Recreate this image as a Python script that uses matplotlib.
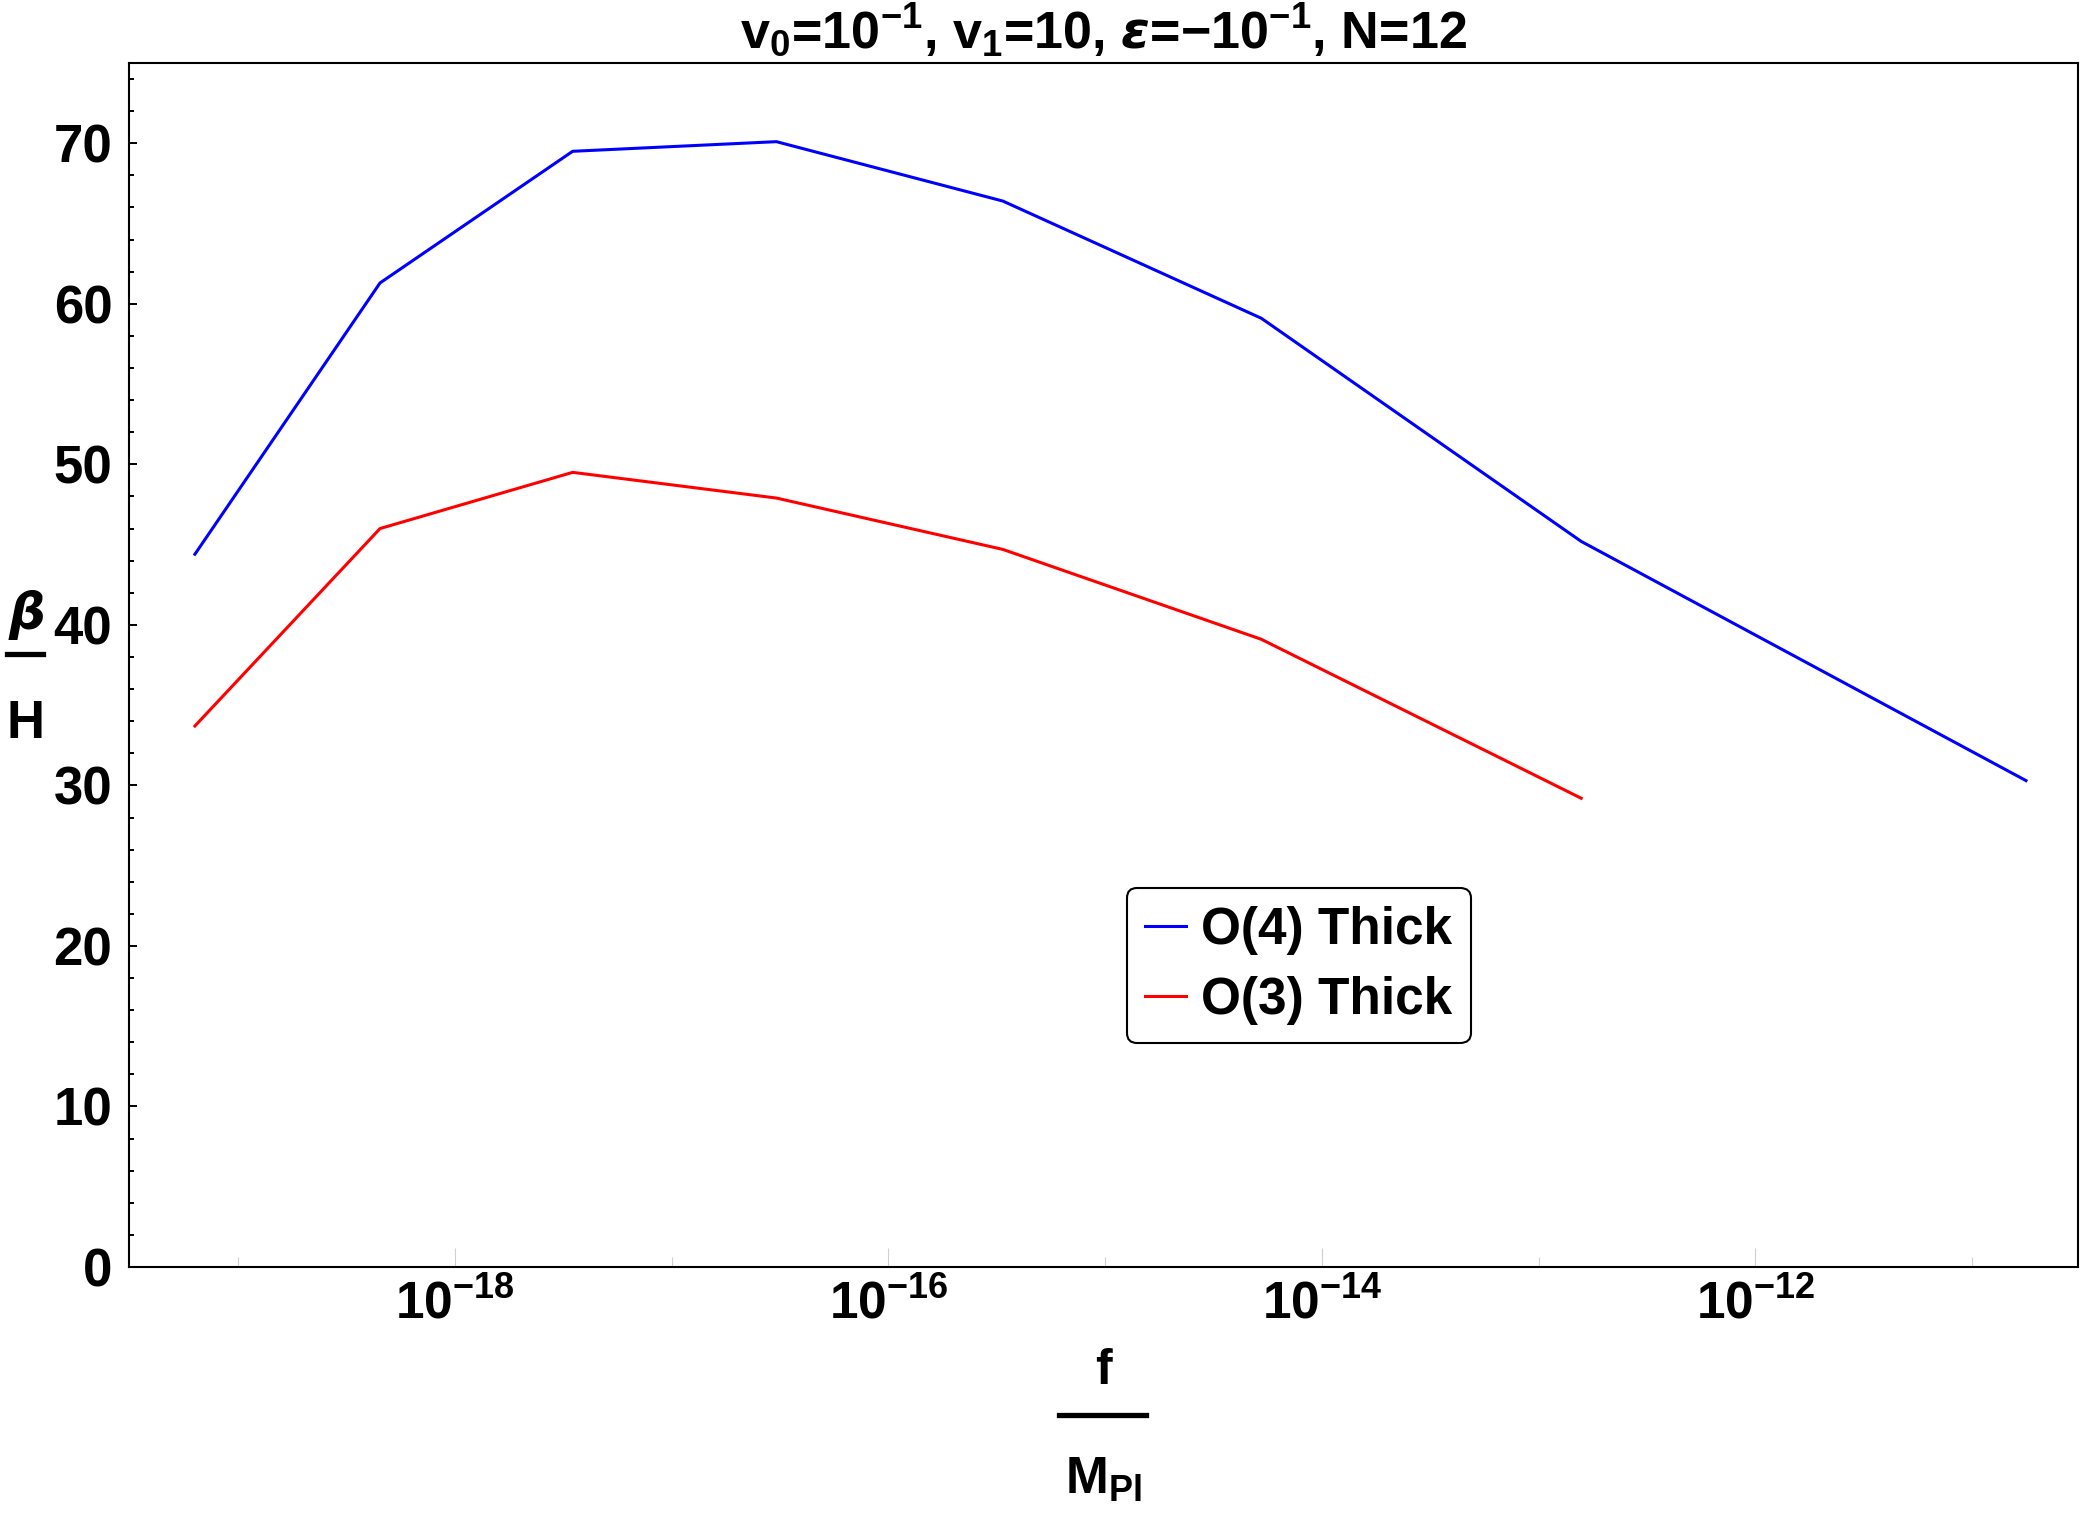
import matplotlib
matplotlib.use("Agg")
import matplotlib.pyplot as plt
from matplotlib.lines import Line2D

plt.rcParams["font.family"] = ["Liberation Sans", "DejaVu Sans"]
plt.rcParams["font.weight"] = "bold"
plt.rcParams["mathtext.fontset"] = "custom"
plt.rcParams["mathtext.rm"] = "Liberation Sans:bold"
plt.rcParams["mathtext.bf"] = "Liberation Sans:bold"
plt.rcParams["mathtext.it"] = "DejaVu Sans:bold:italic"

# ---- data ----
f_o4 = [6.31e-20, 4.51e-19, 3.49e-18, 3.04e-17, 3.37e-16, 5.25e-15, 1.57e-13, 1.77e-11]
beta_o4 = [44.4, 61.3, 69.5, 70.1, 66.4, 59.1, 45.2, 30.3]
f_o3 = [6.31e-20, 4.51e-19, 3.49e-18, 3.04e-17, 3.37e-16, 5.25e-15, 1.57e-13]
beta_o3 = [33.7, 46.0, 49.5, 47.9, 44.7, 39.1, 29.2]
series_labels = ["O(4) Thick", "O(3) Thick"]
x_major = [1e-18, 1e-16, 1e-14, 1e-12]
x_major_labels = [r"10$^{-18}$", r"10$^{-16}$", r"10$^{-14}$", r"10$^{-12}$"]
x_minor = [1e-19, 1e-17, 1e-15, 1e-13, 1e-11]
y_major = [0, 10, 20, 30, 40, 50, 60, 70]
y_minor = [v for v in range(0, 76, 2) if v % 10 != 0]
title = r"v$_0$=10$^{-1}$, v$_1$=10, $\varepsilon$=−10$^{-1}$, N=12"

W, H = 2084, 1513
fig = plt.figure(figsize=(W / 100, H / 100), dpi=100)
ax = fig.add_axes([129 / W, 1 - 1267 / H, (2078 - 129) / W, (1267 - 63) / H])

ax.plot(f_o4, beta_o4, color="#0000ff", lw=2.2, label=series_labels[0])
ax.plot(f_o3, beta_o3, color="#ff0000", lw=2.2, label=series_labels[1])

ax.set_xscale("log")
ax.set_xlim(10 ** -19.504, 10 ** -10.512)
ax.set_ylim(0, 75)

ax.set_xticks(x_major)
ax.set_xticklabels(x_major_labels)
ax.set_xticks(x_minor, minor=True)
ax.set_xticklabels([], minor=True)
ax.set_yticks(y_major)
ax.set_yticks(y_minor, minor=True)

ax.tick_params(axis="x", which="major", direction="in", length=13.5, width=0.8,
               color="#d0d0d0", labelsize=37, pad=9)
ax.tick_params(axis="x", which="minor", direction="in", length=7, width=0.8,
               color="#d0d0d0")
ax.tick_params(axis="y", which="major", direction="in", length=5.5, width=1.4,
               color="black", labelsize=38, pad=12)
ax.tick_params(axis="y", which="minor", direction="in", length=3.4, width=1.4,
               color="black")
for lab in ax.get_xticklabels() + ax.get_yticklabels():
    lab.set_fontweight("bold")

for s in ax.spines.values():
    s.set_linewidth(1.5)
    s.set_color("black")

ax.set_title(title, fontsize=37.5, fontweight="bold", pad=10)

leg = ax.legend(loc="upper left", bbox_to_anchor=(0.512, 0.315), fontsize=37,
                handlelength=0.8, handletextpad=0.3, labelspacing=0.42,
                borderpad=0.35, borderaxespad=0, fancybox=True, framealpha=1,
                edgecolor="black", prop={"weight": "bold", "size": 37})
leg.get_frame().set_linewidth(1.5)

# x label as a stacked fraction f / M_Pl
fig.text(1103 / W, 1 - 1371 / H, "f", fontsize=36, fontweight="bold",
         ha="center", va="center")
fig.add_artist(Line2D([1059 / W, 1146 / W], [1 - 1415 / H, 1 - 1415 / H],
                      color="black", lw=3.8, transform=fig.transFigure))
fig.text(1103 / W, 1 - 1480 / H, r"M$_{\mathrm{Pl}}$", fontsize=37,
         fontweight="bold", ha="center", va="center")

# y label as a stacked fraction beta / H
fig.text(26 / W, 1 - 615 / H, r"$\beta$", fontsize=37, ha="center", va="center")
fig.add_artist(Line2D([7 / W, 43 / W], [1 - 654 / H, 1 - 654 / H],
                      color="black", lw=3.8, transform=fig.transFigure))
fig.text(26 / W, 1 - 724 / H, "H", fontsize=38, fontweight="bold",
         ha="center", va="center")

fig.savefig("out.png", dpi=100, facecolor="white")
